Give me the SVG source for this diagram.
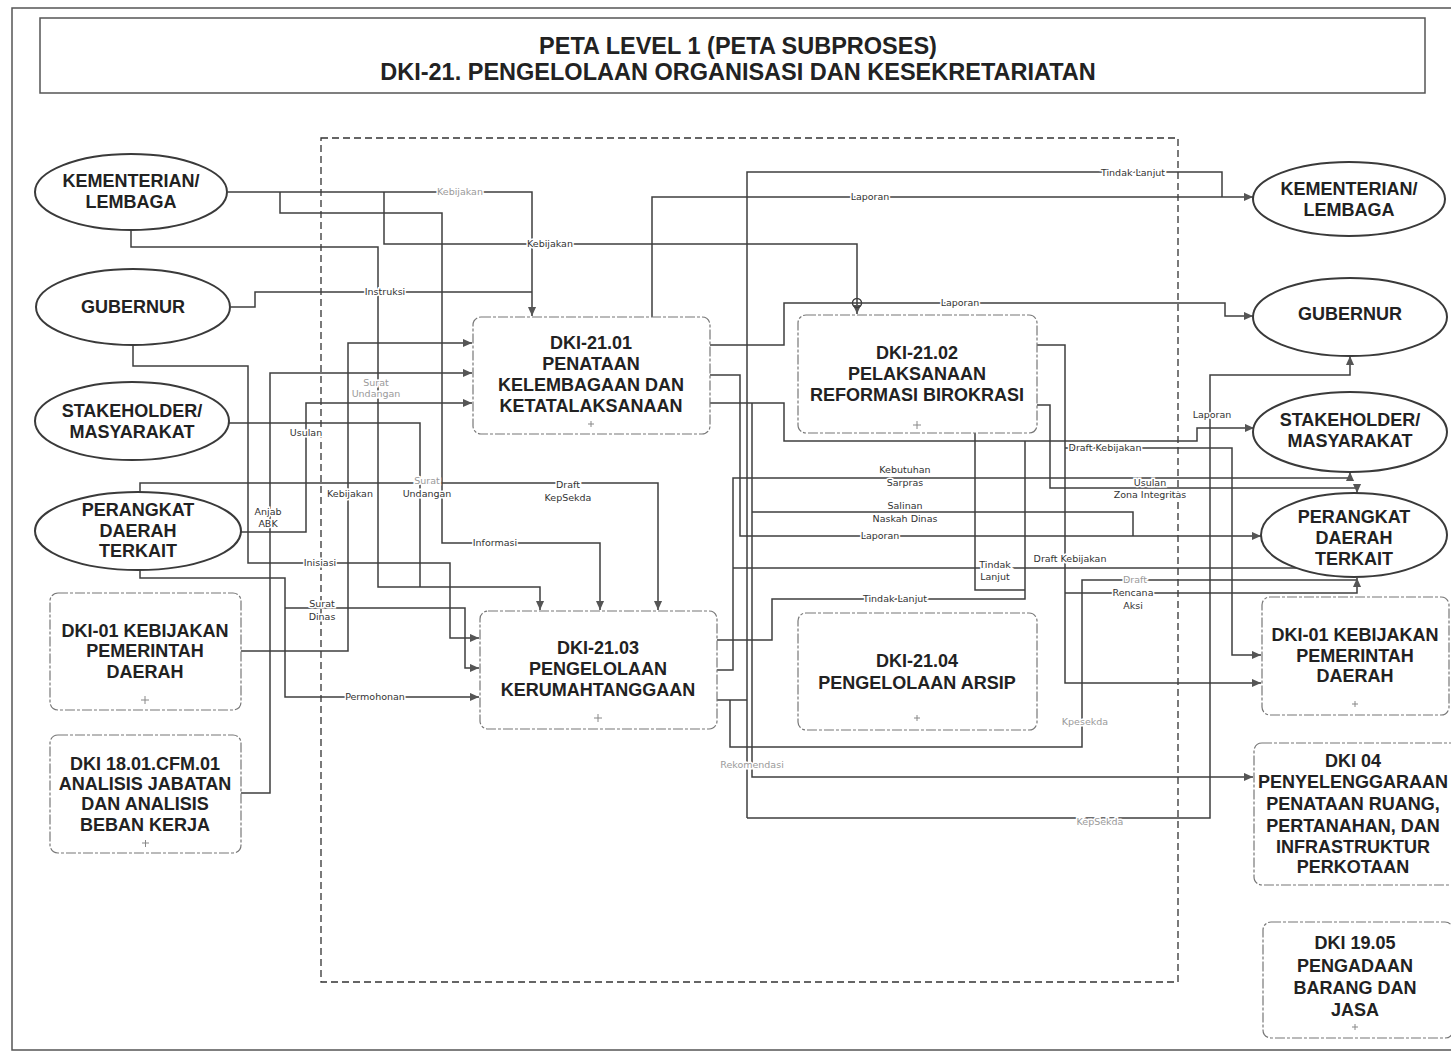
<svg xmlns="http://www.w3.org/2000/svg" width="1451" height="1062" viewBox="0 0 1451 1062">
<defs>
<marker id="ar" viewBox="0 0 10 10" refX="10" refY="5" markerWidth="10" markerHeight="9" markerUnits="userSpaceOnUse" orient="auto"><path d="M0,0.5 L10,5 L0,9.5 z" fill="#555"/></marker>
</defs>
<style>
.frame{fill:none;stroke:#555;stroke-width:1.5}
.bound{fill:none;stroke:#333;stroke-width:1.3;stroke-dasharray:7 4}
.ell{fill:#fff;stroke:#3a3a3a;stroke-width:2}
.box{fill:#fff;stroke:#777;stroke-width:1.2;stroke-dasharray:10 2 3 2}
.nt{font-family:"Liberation Sans",Arial,sans-serif;font-weight:bold;font-size:18px;fill:#222;text-anchor:middle}
.tt{font-family:"Liberation Sans",Arial,sans-serif;font-weight:bold;font-size:23.5px;fill:#222;text-anchor:middle}
.c{fill:none;stroke:#3f3f3f;stroke-width:1.5}
.a{marker-end:url(#ar)}
.lb{font-family:"DejaVu Sans",sans-serif;font-size:9.5px;fill:#333;text-anchor:middle;paint-order:stroke;stroke:#fff;stroke-width:3px}
.lf{fill:#9a9a9a}
.pm{stroke:#888;stroke-width:1;fill:none}
</style>
<rect class="frame" x="12" y="8" width="1460" height="1042"/>
<g id="title">
<rect class="frame" x="40" y="18" width="1385" height="75"/>
<text class="tt" x="738" y="54">PETA LEVEL 1 (PETA SUBPROSES)</text>
<text class="tt" x="738" y="80">DKI-21. PENGELOLAAN ORGANISASI DAN KESEKRETARIATAN</text>
</g>
<rect id="boundary" class="bound" x="321" y="138" width="857" height="844"/>
<g id="connectors">
<polyline class="c a" points="241,651 348,651 348,343 472,343"/>
<polyline class="c a" points="241,793 270,793 270,373 472,373"/>
<polyline class="c a" points="241,532 306,532 306,403 472,403"/>
<polyline class="c a" points="228,192 532,192 532,316"/>
<polyline class="c" points="231,307 255,307 255,292 532,292"/>
<polyline class="c a" points="384,192 384,244 857,244 857,314"/>
<circle cx="857" cy="303" r="4.5" class="c"/>
<polyline class="c a" points="131,230 131,247 378,247 378,587 540,587 540,610"/>
<polyline class="c" points="229,423 420,423 420,587"/>
<polyline class="c a" points="280,192 280,213 442,213 442,543 600,543 600,610"/>
<polyline class="c a" points="140,492 140,483 658,483 658,610"/>
<polyline class="c a" points="133,345 133,366 248,366 248,563 450,563 450,638 479,638"/>
<polyline class="c a" points="140,570 140,578 285,578 285,697 479,697"/>
<polyline class="c a" points="285,608 465,608 465,668 479,668"/>
<polyline class="c a" points="652,317 652,197 1253,197"/>
<polyline class="c" points="747,818 747,172 1222,172 1222,197"/>
<polyline class="c a" points="710,345 784,345 784,303 1225,303 1225,316 1253,316"/>
<polyline class="c a" points="710,403 784,403 784,441 1197,441 1197,428 1254,428"/>
<polyline class="c a" points="1037,345 1065,345 1065,683 1261,683"/>
<polyline class="c a" points="1065,448 1232,448 1232,655 1261,655"/>
<polyline class="c a" points="1037,405 1050,405 1050,488 1357,488 1357,493"/>
<polyline class="c a" points="717,670 733,670 733,478 1350,478 1350,472"/>
<polyline class="c" points="733,568 1357,568"/>
<polyline class="c" points="717,700 747,700"/>
<polyline class="c a" points="747,818 1210,818 1210,375 1350,375 1350,356"/>
<polyline class="c" points="717,640 772,640 772,599 1025,599 1025,441"/>
<polyline class="c" points="975,433 975,590 1025,590"/>
<polyline class="c a" points="752,403 752,777 1253,777"/>
<polyline class="c" points="730,700 730,747 1082,747 1082,580 1357,580"/>
<polyline class="c" points="752,512 1133,512 1133,536"/>
<polyline class="c a" points="710,375 740,375 740,536 1261,536"/>
<polyline class="c a" points="1065,593 1357,593 1357,578"/>
<text class="lb lf" x="460" y="195">Kebijakan</text>
<text class="lb" x="550" y="247">Kebijakan</text>
<text class="lb" x="385" y="295">Instruksi</text>
<text class="lb lf" x="376" y="386">Surat</text>
<text class="lb lf" x="376" y="397">Undangan</text>
<text class="lb" x="306" y="436">Usulan</text>
<text class="lb" x="350" y="497">Kebijakan</text>
<text class="lb lf" x="427" y="484">Surat</text>
<text class="lb" x="427" y="497">Undangan</text>
<text class="lb" x="268" y="515">Anjab</text>
<text class="lb" x="268" y="527">ABK</text>
<text class="lb" x="320" y="566">Inisiasi</text>
<text class="lb" x="322" y="607">Surat</text>
<text class="lb" x="322" y="620">Dinas</text>
<text class="lb" x="375" y="700">Permohonan</text>
<text class="lb" x="495" y="546">Informasi</text>
<text class="lb" x="568" y="488">Draft</text>
<text class="lb" x="568" y="501">KepSekda</text>
<text class="lb" x="870" y="200">Laporan</text>
<text class="lb" x="1133" y="176">Tindak Lanjut</text>
<text class="lb" x="960" y="306">Laporan</text>
<text class="lb" x="1212" y="418">Laporan</text>
<text class="lb" x="1105" y="451">Draft Kebijakan</text>
<text class="lb" x="905" y="473">Kebutuhan</text>
<text class="lb" x="905" y="486">Sarpras</text>
<text class="lb" x="1150" y="486">Usulan</text>
<text class="lb" x="1150" y="498">Zona Integritas</text>
<text class="lb" x="905" y="509">Salinan</text>
<text class="lb" x="905" y="522">Naskah Dinas</text>
<text class="lb" x="880" y="539">Laporan</text>
<text class="lb" x="995" y="568">Tindak</text>
<text class="lb" x="995" y="580">Lanjut</text>
<text class="lb" x="1070" y="562">Draft Kebijakan</text>
<text class="lb lf" x="1135" y="583">Draft</text>
<text class="lb" x="1133" y="596">Rencana</text>
<text class="lb" x="1133" y="609">Aksi</text>
<text class="lb" x="895" y="602">Tindak Lanjut</text>
<text class="lb lf" x="1085" y="725">Kpesekda</text>
<text class="lb lf" x="752" y="768">Rekomendasi</text>
<text class="lb lf" x="1100" y="825">KepSekda</text>
</g>
<g id="n_kem_l"><ellipse class="ell" cx="131" cy="192" rx="96" ry="38"/><text class="nt" x="131" y="187">KEMENTERIAN/</text><text class="nt" x="131" y="208">LEMBAGA</text></g>
<g id="n_gub_l"><ellipse class="ell" cx="133" cy="307" rx="97" ry="38"/><text class="nt" x="133" y="313">GUBERNUR</text></g>
<g id="n_stk_l"><ellipse class="ell" cx="132" cy="421" rx="97" ry="39"/><text class="nt" x="132" y="417">STAKEHOLDER/</text><text class="nt" x="132" y="438">MASYARAKAT</text></g>
<g id="n_pd_l"><ellipse class="ell" cx="138" cy="531" rx="103" ry="39"/><text class="nt" x="138" y="516">PERANGKAT</text><text class="nt" x="138" y="537">DAERAH</text><text class="nt" x="138" y="557">TERKAIT</text></g>
<g id="n_dki01_l"><rect class="box" x="50" y="593" width="191" height="117" rx="8"/><text class="nt" x="145" y="637">DKI-01 KEBIJAKAN</text><text class="nt" x="145" y="657">PEMERINTAH</text><text class="nt" x="145" y="678">DAERAH</text><path class="pm" d="M141,700h8M145,696v8"/></g>
<g id="n_dki18"><rect class="box" x="50" y="735" width="191" height="118" rx="8"/><text class="nt" x="145" y="770">DKI 18.01.CFM.01</text><text class="nt" x="145" y="790">ANALISIS JABATAN</text><text class="nt" x="145" y="810">DAN ANALISIS</text><text class="nt" x="145" y="831">BEBAN KERJA</text><path class="pm" d="M142,843h7M145.5,840v7"/></g>
<g id="n_2101"><rect class="box" x="473" y="317" width="237" height="117" rx="8"/><text class="nt" x="591" y="349">DKI-21.01</text><text class="nt" x="591" y="370">PENATAAN</text><text class="nt" x="591" y="391">KELEMBAGAAN DAN</text><text class="nt" x="591" y="412">KETATALAKSANAAN</text><path class="pm" d="M588,424h6M591,421v6"/></g>
<g id="n_2102"><rect class="box" x="798" y="315" width="239" height="118" rx="8"/><text class="nt" x="917" y="359">DKI-21.02</text><text class="nt" x="917" y="380">PELAKSANAAN</text><text class="nt" x="917" y="401">REFORMASI BIROKRASI</text><path class="pm" d="M913,425h8M917,421v8"/></g>
<g id="n_2103"><rect class="box" x="480" y="611" width="237" height="118" rx="8"/><text class="nt" x="598" y="654">DKI-21.03</text><text class="nt" x="598" y="675">PENGELOLAAN</text><text class="nt" x="598" y="696">KERUMAHTANGGAAN</text><path class="pm" d="M594,718h8M598,714v8"/></g>
<g id="n_2104"><rect class="box" x="798" y="613" width="239" height="117" rx="8"/><text class="nt" x="917" y="667">DKI-21.04</text><text class="nt" x="917" y="689">PENGELOLAAN ARSIP</text><path class="pm" d="M914,718h6M917,715v6"/></g>
<g id="n_kem_r"><ellipse class="ell" cx="1349" cy="199" rx="96" ry="37"/><text class="nt" x="1349" y="195">KEMENTERIAN/</text><text class="nt" x="1349" y="216">LEMBAGA</text></g>
<g id="n_gub_r"><ellipse class="ell" cx="1350" cy="317" rx="97" ry="39"/><text class="nt" x="1350" y="320">GUBERNUR</text></g>
<g id="n_stk_r"><ellipse class="ell" cx="1350" cy="432" rx="97" ry="40"/><text class="nt" x="1350" y="426">STAKEHOLDER/</text><text class="nt" x="1350" y="447">MASYARAKAT</text></g>
<g id="n_pd_r"><ellipse class="ell" cx="1354" cy="535" rx="93" ry="42"/><text class="nt" x="1354" y="523">PERANGKAT</text><text class="nt" x="1354" y="544">DAERAH</text><text class="nt" x="1354" y="565">TERKAIT</text></g>
<g id="n_dki01_r"><rect class="box" x="1262" y="597" width="187" height="118" rx="8"/><text class="nt" x="1355" y="641">DKI-01 KEBIJAKAN</text><text class="nt" x="1355" y="662">PEMERINTAH</text><text class="nt" x="1355" y="682">DAERAH</text><path class="pm" d="M1352,704h6M1355,701v6"/></g>
<g id="n_dki04"><rect class="box" x="1254" y="743" width="210" height="142" rx="8"/><text class="nt" x="1353" y="767">DKI 04</text><text class="nt" x="1353" y="788">PENYELENGGARAAN</text><text class="nt" x="1353" y="810">PENATAAN RUANG,</text><text class="nt" x="1353" y="832">PERTANAHAN, DAN</text><text class="nt" x="1353" y="853">INFRASTRUKTUR</text><text class="nt" x="1353" y="873">PERKOTAAN</text></g>
<g id="n_dki1905"><rect class="box" x="1263" y="922" width="190" height="116" rx="8"/><text class="nt" x="1355" y="949">DKI 19.05</text><text class="nt" x="1355" y="972">PENGADAAN</text><text class="nt" x="1355" y="994">BARANG DAN</text><text class="nt" x="1355" y="1016">JASA</text><path class="pm" d="M1352,1027h6M1355,1024v6"/></g>
</svg>
